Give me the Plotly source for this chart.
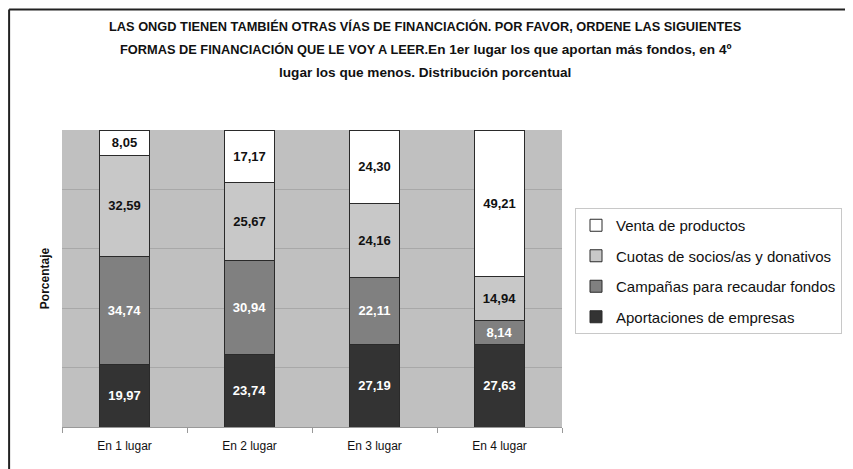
import plotly.graph_objects as go

# categories on the x axis
lugares = ["En 1 lugar", "En 2 lugar", "En 3 lugar", "En 4 lugar"]

# series (bottom to top of the stack)
aportaciones = [19.97, 23.74, 27.19, 27.63]
campanas = [34.74, 30.94, 22.11, 8.14]
cuotas = [32.59, 25.67, 24.16, 14.94]
venta = [8.05, 17.17, 24.30, 49.21]

series = [
    ("Aportaciones de empresas", aportaciones, "#333333", "white"),
    ("Campañas para recaudar fondos", campanas, "#808080", "white"),
    ("Cuotas de socios/as y donativos", cuotas, "#C8C8C8", "#111111"),
    ("Venta de productos", venta, "#FFFFFF", "#111111"),
]

FONT = "Liberation Sans, Arial, sans-serif"

# the page puts the figure 8px in from the top-left corner
W, H = 845, 461
L, R, T, B = 54, 290, 122, 42
PW, PH = W - L - R, H - T - B


def px_x(x):
    return (x - L) / PW


def px_y(y):
    return (H - B - y) / PH


def fmt(v):
    return f"{v:.2f}".replace(".", ",")


fig = go.Figure()
for rank, (name, vals, color, txtcolor) in enumerate(series):
    fig.add_trace(go.Bar(
        x=lugares, y=vals, name=name, legendgroup=name, legendrank=10 - rank,
        marker=dict(color=color, line=dict(color="#2a2a2a", width=1)),
        text=[fmt(v) for v in vals], textposition="inside",
        insidetextanchor="middle", textangle=0, constraintext="none",
        textfont=dict(family=FONT, size=13, color=txtcolor, weight="bold"),
        hoverinfo="skip",
    ))

# title, three lines (upper case parts are condensed in the original)
big = "<span style='font-size:13.6px'>%s</span>"
title_lines = [
    "LAS ONGD TIENEN TAMBIÉN OTRAS VÍAS DE FINANCIACIÓN. POR FAVOR, ORDENE LAS SIGUIENTES",
    "FORMAS DE FINANCIACIÓN QUE LE VOY A LEER." + big % "En 1er lugar los que aportan más fondos, en 4º",
    big % "lugar los que menos. Distribución porcentual",
]
ann = []
for i, line in enumerate(title_lines):
    ann.append(dict(
        text="<b>%s</b>" % line, xref="paper", yref="paper",
        x=px_x(426 - 8), y=px_y(26 - 8 + 23 * i),
        xanchor="center", yanchor="middle", showarrow=False,
        font=dict(family=FONT, size=12.8, color="#111111"),
    ))

fig.update_layout(
    width=W, height=H,
    margin=dict(l=L, r=R, t=T, b=B),
    barmode="stack", barnorm="percent", bargap=0.6,
    plot_bgcolor="#C0C0C0", paper_bgcolor="white",
    font=dict(family=FONT, size=12, color="#111111"),
    annotations=ann,
    showlegend=True,
    legend=dict(
        x=px_x(575 - 8), y=px_y(208 - 8), xanchor="left", yanchor="top",
        traceorder="grouped", tracegroupgap=8,
        bordercolor="#C8C8C8", borderwidth=1, bgcolor="white",
        font=dict(family=FONT, size=15, color="#111111"), itemwidth=30,
    ),
    shapes=[
        dict(type="line", xref="paper", yref="paper", x0=px_x(1), x1=px_x(W),
             y0=px_y(1.5), y1=px_y(1.5),
             line=dict(color="#222222", width=2)),
        dict(type="line", xref="paper", yref="paper", x0=px_x(1), x1=px_x(1),
             y0=px_y(1.5), y1=px_y(H),
             line=dict(color="#222222", width=2)),
    ],
)
fig.update_xaxes(
    showline=True, linecolor="#999999", linewidth=1,
    ticks="outside", tickson="boundaries", ticklen=5, tickcolor="#999999",
    ticklabelstandoff=8,
    tickfont=dict(family=FONT, size=12, color="#111111"), showgrid=False,
)
fig.update_yaxes(
    range=[0, 100], dtick=20, showticklabels=False, showgrid=True,
    gridcolor="#A8A8A8", gridwidth=1, zeroline=False, showline=False,
    title=dict(text="<b>Porcentaje</b>", standoff=8,
               font=dict(family=FONT, size=12, color="#111111")),
)

fig.write_html("out.html")
